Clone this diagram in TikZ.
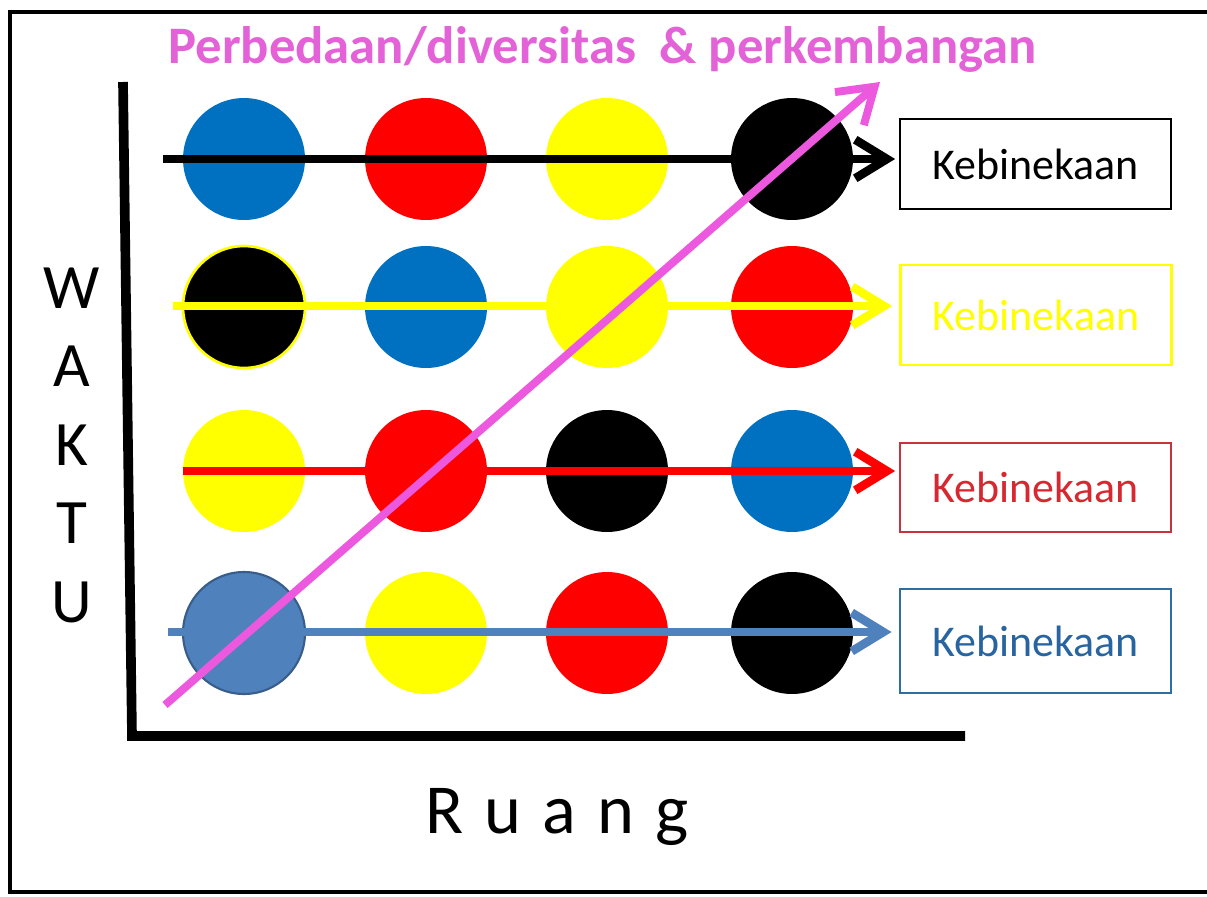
\documentclass[tikz,border=0pt]{standalone}
\usepackage{fontspec}
\setmainfont{Carlito}
\usepackage{xcolor}
\usetikzlibrary{arrows.meta}

\definecolor{kblue}{RGB}{0,112,192}
\definecolor{sblue}{RGB}{79,129,189}
\definecolor{sbluedark}{RGB}{56,93,138}
\definecolor{kpink}{RGB}{236,88,222}
\definecolor{ktitle}{RGB}{228,98,216}
\definecolor{kyellow}{RGB}{255,255,0}
\definecolor{kred}{RGB}{255,0,0}
\definecolor{boxred}{RGB}{200,50,60}
\definecolor{textred}{RGB}{215,40,50}
\definecolor{boxblue}{RGB}{46,110,165}
\definecolor{textblue}{RGB}{40,100,160}

\begin{document}
\begin{tikzpicture}[x=0.02cm, y=-0.02cm,
  dot/.style={circle, minimum size=2.44cm, inner sep=0pt},
  label box/.style={draw, line width=1.6pt, minimum width=5.42cm, minimum height=1.8cm, font=\fontsize{25}{30}\selectfont},
  row arrow/.style={line width=4.9pt, shorten >=2pt, -{Straight Barb[length=18pt,width=22pt]}}]
  \useasboundingbox (0,0) rectangle (1207,896);

  % Frame and axes
  \draw[line width=2.8pt] (10,12) rectangle (1240,892);
  \coordinate (top) at (123,82);
  \coordinate (origin) at (132,736);
  \coordinate (end) at (965,736);
  \draw[line width=5.5pt] (top) -- (origin) -- (end);

  % Draw circles
  \node[dot, fill=kblue] (r1c1) at (244,159) {};
  \node[dot, fill=kred] (r1c2) at (426,159) {};
  \node[dot, fill=kyellow] (r1c3) at (607,159) {};
  \node[dot, fill=black] (r1c4) at (792,159) {};
  \node[dot, fill=black, draw=kyellow, line width=1.5pt] (r2c1) at (244,307) {};
  \node[dot, fill=kblue] (r2c2) at (426,307) {};
  \node[dot, fill=kyellow] (r2c3) at (607,307) {};
  \node[dot, fill=kred] (r2c4) at (792,307) {};
  \node[dot, fill=kyellow] (r3c1) at (244,471) {};
  \node[dot, fill=kred] (r3c2) at (426,471) {};
  \node[dot, fill=black] (r3c3) at (607,471) {};
  \node[dot, fill=kblue] (r3c4) at (792,471) {};
  \node[dot, fill=sblue, draw=sbluedark, line width=1.2pt] (r4c1) at (244,633) {};
  \node[dot, fill=kyellow] (r4c2) at (426,633) {};
  \node[dot, fill=kred] (r4c3) at (607,633) {};
  \node[dot, fill=black] (r4c4) at (792,633) {};

  % Draw boxes
  \node[label box] (k1) at (1035.5,164) {Kebinekaan};
  \node[label box, draw=kyellow, text=kyellow, minimum height=2cm] (k2) at (1036,315) {Kebinekaan};
  \node[label box, draw=boxred, text=textred, minimum height=1.78cm] (k3) at (1035.5,487.5) {Kebinekaan};
  \node[label box, draw=boxblue, text=textblue, minimum height=2.08cm] (k4) at (1035.5,641) {Kebinekaan};

  % Draw row arrows
  \coordinate (s1) at (163,159);
  \coordinate (s2) at (173,306);
  \coordinate (s3) at (183,471);
  \coordinate (s4) at (168,632);
  \draw[row arrow, black] (s1) -- (s1 -| k1.west);
  \draw[row arrow, kyellow, shorten >=4pt] (s2) -- (s2 -| k2.west);
  \draw[row arrow, kred] (s3) -- (s3 -| k3.west);
  \draw[row arrow, sblue, shorten >=4pt] (s4) -- (s4 -| k4.west);

  % Diagonal arrow
  \coordinate (p0) at (165,705);
  \coordinate (p1) at (880,82);
  \draw[kpink, line width=4.5pt, -{Straight Barb[length=19pt,width=25pt]}] (p0) -- (p1);

  % Labels
  \node[anchor=base west, text=ktitle, font=\fontsize{30}{36}\selectfont\bfseries, inner sep=0pt] (title) at (168,63) {Perbedaan/diversitas~~\& perkembangan};
  \foreach \l [count=\i from 0] in {W,A,K,T,U}
    \node[anchor=base, font=\fontsize{36}{40}\selectfont, inner sep=0pt] (w\i) at (72,308+78.5*\i) {\l};
  \node[anchor=base, font=\fontsize{40}{48}\selectfont, inner sep=0pt] (ruang) at (557,833) {\spaceskip=12pt\relax R u a n g};
\end{tikzpicture}
\end{document}
